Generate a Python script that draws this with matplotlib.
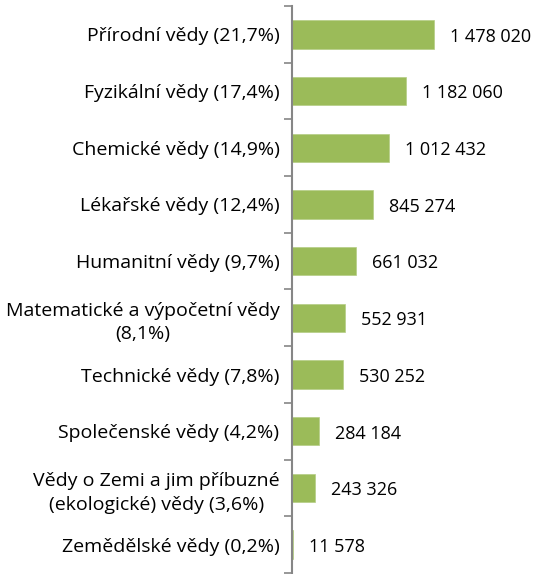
import matplotlib
matplotlib.use("Agg")
import matplotlib.pyplot as plt
import numpy as np

categories = [
    "Přírodní vědy (21,7%)",
    "Fyzikální vědy (17,4%)",
    "Chemické vědy (14,9%)",
    "Lékařské vědy (12,4%)",
    "Humanitní vědy (9,7%)",
    "Matematické a výpočetní vědy\n(8,1%)",
    "Technické vědy (7,8%)",
    "Společenské vědy (4,2%)",
    "Vědy o Zemi a jim příbuzné\n(ekologické) vědy (3,6%)",
    "Zemědělské vědy (0,2%)",
]
values = [1478020, 1182060, 1012432, 845274, 661032, 552931, 530252, 284184, 243326, 11578]
value_labels = ["1 478 020", "1 182 060", "1 012 432", "845 274", "661 032",
                "552 931", "530 252", "284 184", "243 326", "11 578"]

plt.rcParams['font.family'] = ['Open Sans', 'DejaVu Sans']

W, H = 537, 574
fig = plt.figure(figsize=(W/100, H/100), dpi=100)
left_px, right_px, top_px, bot_px = 292, 530, 6, 573
ax = fig.add_axes([left_px/W, 1 - bot_px/H, (right_px-left_px)/W, (bot_px-top_px)/H])

n = len(categories)
y = np.arange(n)
xmax = 1478020 * (right_px - left_px) / 142
ax.barh(y, values, height=0.5, color="#9BBB59", edgecolor="#B5CD85", linewidth=0.5)
ax.set_xlim(0, xmax)
ax.set_ylim(n - 0.5, -0.5)

for yi, v, lab in zip(y, values, value_labels):
    ax.text(v + xmax * 16/(right_px-left_px), yi + 0.04, lab, va='center', ha='left',
            fontsize=13, color='black')

ax.set_yticks(y)
ax.set_yticklabels(categories, fontsize=14, multialignment='center', linespacing=1.4)
ax.tick_params(axis='y', length=0, pad=9)
for t in ax.get_yticklabels():
    t.set_y(t.get_position()[1])
ax.set_yticks(np.arange(n + 1) - 0.5, minor=True)
ax.tick_params(axis='y', which='minor', length=6, width=1.2, color='#868686')
ax.set_xticks([])
for s in ['top', 'right', 'bottom']:
    ax.spines[s].set_visible(False)
ax.spines['left'].set_color('#868686')
ax.spines['left'].set_linewidth(1.5)

fig.savefig("out.png", dpi=100)
